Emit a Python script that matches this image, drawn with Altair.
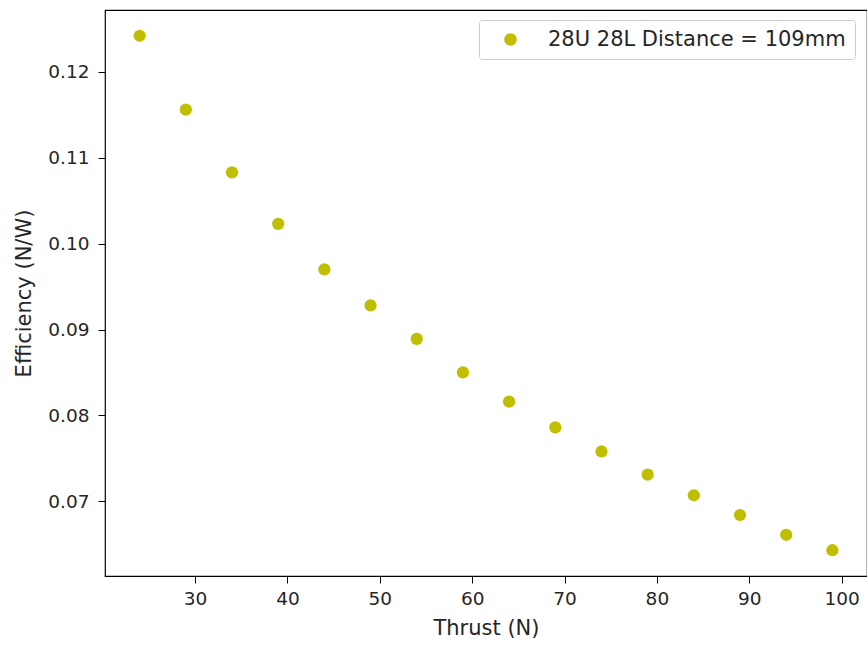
import altair as alt
import pandas as pd

thrust = [24, 29, 34, 39, 44, 49, 54, 59, 64, 69, 74, 79, 84, 89, 94, 99]
efficiency = [0.1242, 0.1156, 0.1083, 0.1023, 0.0970, 0.0928, 0.0889, 0.0850,
              0.0816, 0.0786, 0.0758, 0.0731, 0.0707, 0.0684, 0.0661, 0.0643]
series = ["28U 28L Distance = 109mm"] * len(thrust)
x_ticks = [30, 40, 50, 60, 70, 80, 90, 100]
y_ticks = [0.07, 0.08, 0.09, 0.10, 0.11, 0.12]

df = pd.DataFrame({"Thrust": thrust, "Efficiency": efficiency, "Series": series})

FONT = "DejaVu Sans"
FS = 18.5
TFS = 21

chart = alt.Chart(df).mark_circle(size=150, opacity=1).encode(
    x=alt.X("Thrust:Q", scale=alt.Scale(domain=[20.25, 102.75], nice=False, zero=False),
            axis=alt.Axis(title="Thrust (N)", values=x_ticks, grid=False, tickSize=7,
                          tickColor="black", domain=False, labelFontSize=FS, titleFontSize=TFS,
                          labelFont=FONT, titleFont=FONT, labelColor="#262626", titleColor="#262626",
                          titleFontWeight="normal", titlePadding=10, labelPadding=6)),
    y=alt.Y("Efficiency:Q", scale=alt.Scale(domain=[0.0613, 0.1272], nice=False, zero=False),
            axis=alt.Axis(title="Efficiency (N/W)", values=y_ticks, format=".2f", grid=False,
                          tickSize=7, tickColor="black", domain=False, labelFontSize=FS,
                          titleFontSize=TFS, labelFont=FONT, titleFont=FONT,
                          labelColor="#262626", titleColor="#262626",
                          titleFontWeight="normal", titlePadding=13, labelPadding=9)),
    color=alt.Color("Series:N", scale=alt.Scale(range=["#bfbf00"]),
                    legend=alt.Legend(title=None, orient="none", legendX=374, legendY=10,
                                      labelFont=FONT, labelFontSize=TFS, labelColor="#262626",
                                      labelLimit=0,
                                      strokeColor="#cccccc", fillColor="white", padding=9,
                                      cornerRadius=3, symbolSize=160, symbolType="circle",
                                      labelOffset=27, symbolOffset=12)),
).properties(
    width=762, height=566,
    padding={"left": 105, "top": 10, "right": 0, "bottom": 70},
    autosize=alt.AutoSizeParams(type="none"),
).configure_view(stroke="black", strokeWidth=1.2)

chart.save("out.html", embed_options={"renderer": "svg", "actions": False})
